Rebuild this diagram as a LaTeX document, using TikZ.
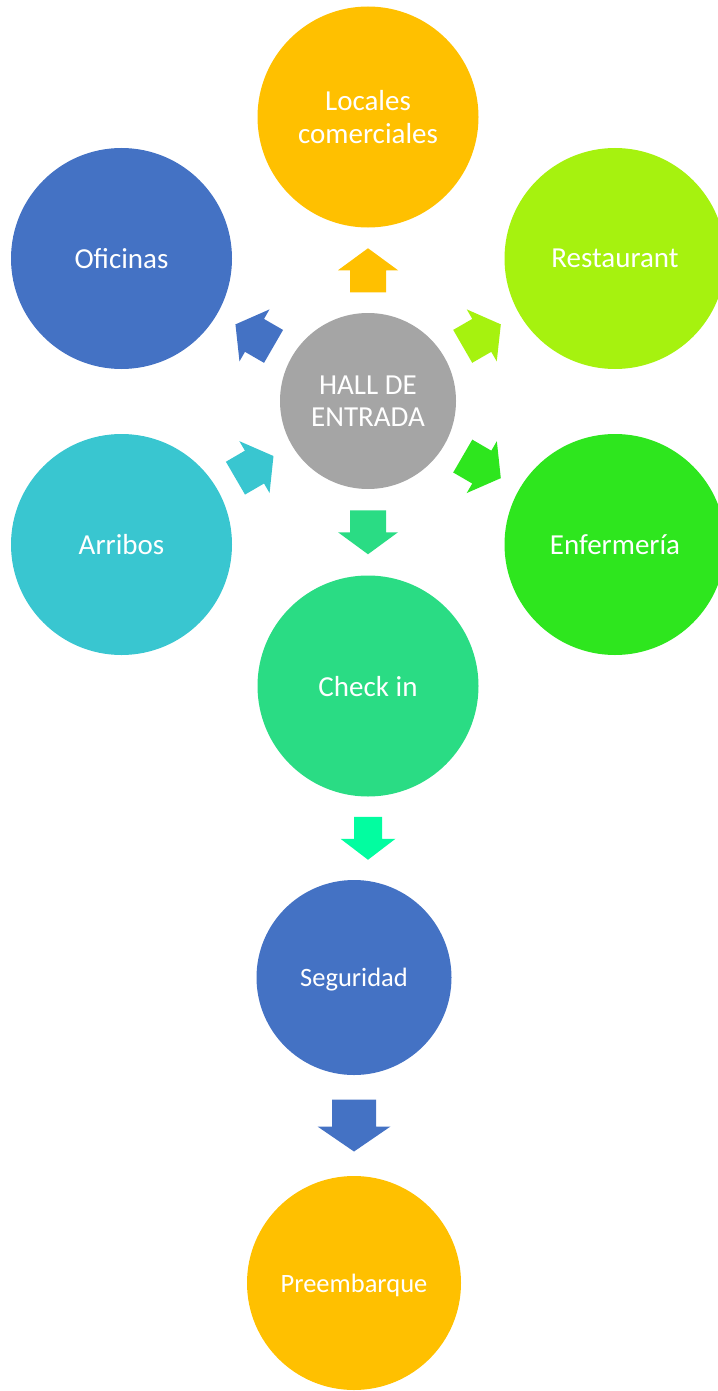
\documentclass[tikz,border=0pt]{standalone}
\usepackage{fontspec}
\setmainfont{Carlito}
\usetikzlibrary{calc}

\definecolor{gold}{HTML}{FFC000}
\definecolor{steel}{HTML}{4472C4}
\definecolor{lime}{HTML}{A6F20F}
\definecolor{leaf}{HTML}{2EE61E}
\definecolor{teal}{HTML}{39C6D0}
\definecolor{jade}{HTML}{2ADC84}
\definecolor{mint}{HTML}{02FDA0}
\definecolor{stone}{HTML}{A5A5A5}

% Block arrow centred in the gap between two shapes, pointing from #1 to #2.
% #3 colour, #4 shaft half-width, #5 head half-width, #6 shaft length, #7 head length
\newcommand\gaparrow[7]{%
  \pgfmathsetmacro\gaTail{-(#6+#7)/2}%
  \pgfmathsetmacro\gaBase{(#6-#7)/2}%
  \pgfmathsetmacro\gaTip{(#6+#7)/2}%
  \path (#1) -- (#2) coordinate[pos=0.5] (gm) coordinate[pos=1] (ge);
  \coordinate (gt) at ($(gm)!\gaTail pt!(ge)$);
  \coordinate (gb) at ($(gm)!\gaBase pt!(ge)$);
  \coordinate (gp) at ($(gm)!\gaTip pt!(ge)$);
  \fill[#3] ($(gt)!#4pt!90:(ge)$) -- ($(gb)!#4pt!90:(ge)$) -- ($(gb)!#5pt!90:(ge)$)
    -- (gp) -- ($(gb)!#5pt!-90:(ge)$) -- ($(gb)!#4pt!-90:(ge)$) -- ($(gt)!#4pt!-90:(ge)$) -- cycle;
}

\tikzset{
  bubble/.style={circle, inner sep=0pt, text=white, align=center, text depth=0pt,
    font=\fontsize{29}{32.5}\selectfont},
  small bubble/.style={bubble, font=\fontsize{26.5}{30}\selectfont},
}

\begin{document}
\begin{tikzpicture}[x=1pt, y=-1pt]
  \useasboundingbox (0,0) rectangle (717,1391);

  % circles
  \node[bubble, fill=stone, minimum size=176pt] (hall) at (368,401) {HALL DE\\ENTRADA};
  \node[bubble, fill=gold, minimum size=221pt] (loc) at (368,117) {Locales\\comerciales};
  \node[bubble, fill=steel, minimum size=221pt] (ofi) at (121.5,258.5) {Oficinas};
  \node[bubble, fill=lime, minimum size=221pt] (rest) at (615,258.5) {Restaurant};
  \node[bubble, fill=teal, minimum size=221pt] (arr) at (121.5,544.5) {Arribos};
  \node[bubble, fill=leaf, minimum size=221pt] (enf) at (615,544.5) {Enfermería};
  \node[bubble, fill=jade, minimum size=221pt] (ci) at (368,686) {Check in};
  \node[small bubble, fill=steel, minimum size=195pt] (seg) at (354,977.5) {Seguridad};
  \node[small bubble, fill=gold, minimum size=214pt] (pre) at (354,1283) {Preembarque};

  % arrows around the hall
  \gaparrow{hall}{loc}{gold}{18}{30}{22}{22}
  \gaparrow{hall}{ofi}{steel}{19}{30}{22}{22}
  \gaparrow{hall}{rest}{lime}{19}{30}{22}{22}
  \gaparrow{arr}{hall}{teal}{19}{30}{22}{22}
  \gaparrow{hall}{enf}{leaf}{19}{30}{22}{22}
  \gaparrow{hall}{ci}{jade}{18}{30}{22}{22}

  % arrows down the boarding path
  \coordinate (ca) at (ci.south);
  \coordinate (cb) at (ci.south |- seg.north);
  \gaparrow{ca}{cb}{mint}{14}{27.5}{22}{21}
  \gaparrow{seg}{pre}{steel}{22}{36.5}{27}{25}
\end{tikzpicture}
\end{document}
